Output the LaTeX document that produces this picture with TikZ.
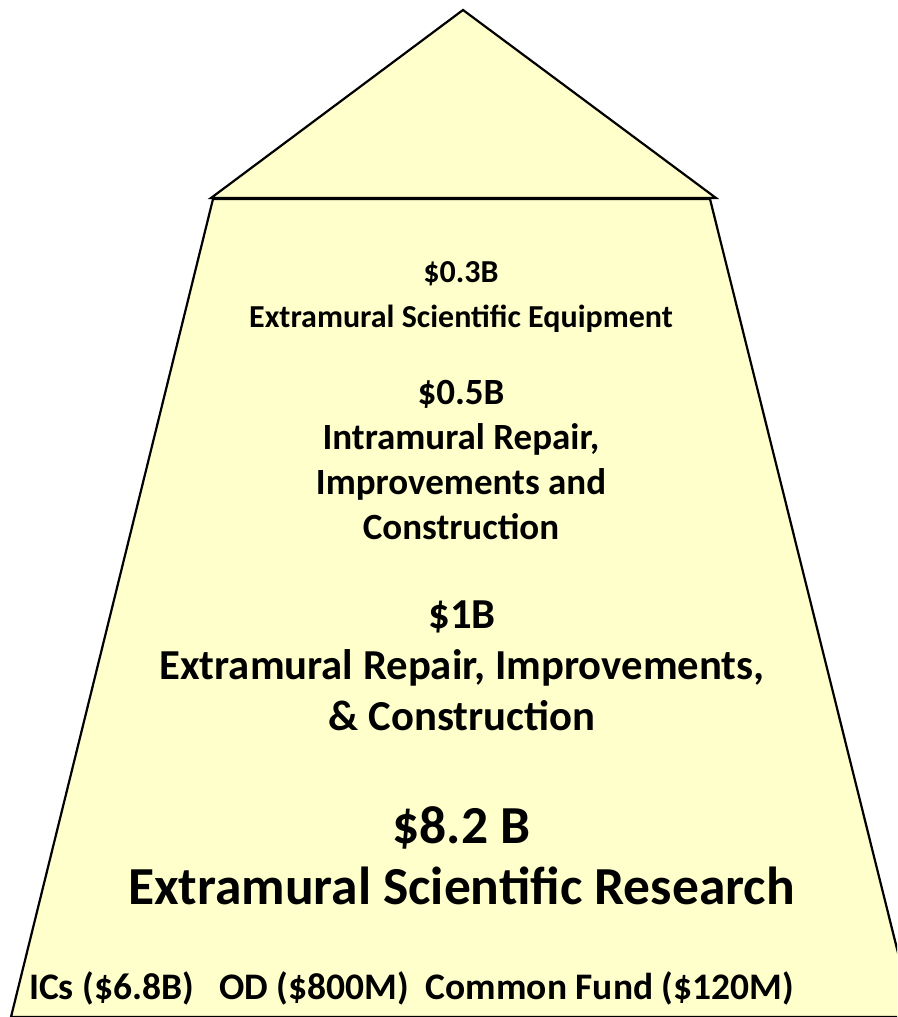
\documentclass[tikz,border=0pt]{standalone}
\usepackage{fontspec}
\setmainfont{Carlito}
\tikzset{
  shapeline/.style={draw=black, line width=2.2pt, fill=paleyellow, line join=miter},
  lbl/.style={align=center, inner sep=0pt, font=\bfseries},
}
\definecolor{paleyellow}{HTML}{FFFFCC}
\begin{document}
\begin{tikzpicture}[x=1pt, y=-1pt]
\useasboundingbox (0,0) rectangle (897,1017);
\begin{scope}
\clip (0,0) rectangle (897,1017);
\coordinate (tl) at (213,199);
\coordinate (tr) at (710,199);
\coordinate (bl) at (11,1017);
\coordinate (br) at (914,1017);
\coordinate (apex) at (463,10);
\coordinate (rl) at (211,198);
\coordinate (rr) at (716,198);
\draw[shapeline] (tl) -- (bl) -- (br) -- (tr) -- cycle;
\draw[shapeline] (rl) -- (apex) -- (rr) -- cycle;
\end{scope}
\node[lbl, font=\bfseries\fontsize{32}{45}\selectfont] (equip) at (461,297) {\$0.3B\\Extramural Scientific Equipment};
\node[lbl, font=\bfseries\fontsize{37}{45}\selectfont] (intra) at (461,460) {\$0.5B\\ Intramural Repair,\\Improvements and\\Construction};
\node[lbl, font=\bfseries\fontsize{42.7}{51}\selectfont] (extra) at (462,666) {\$1B\\Extramural Repair, Improvements,\\\& Construction};
\node[lbl, font=\bfseries\fontsize{53.5}{61}\selectfont] (research) at (461.5,856) {\$8.2 B\\Extramural Scientific Research};
\node[lbl, font=\bfseries\fontsize{37.5}{40}\selectfont] (funds) at (411.5,988) {ICs (\$6.8B)\ \ \ OD (\$800M)\ \ Common Fund (\$120M)};
\end{tikzpicture}
\end{document}
